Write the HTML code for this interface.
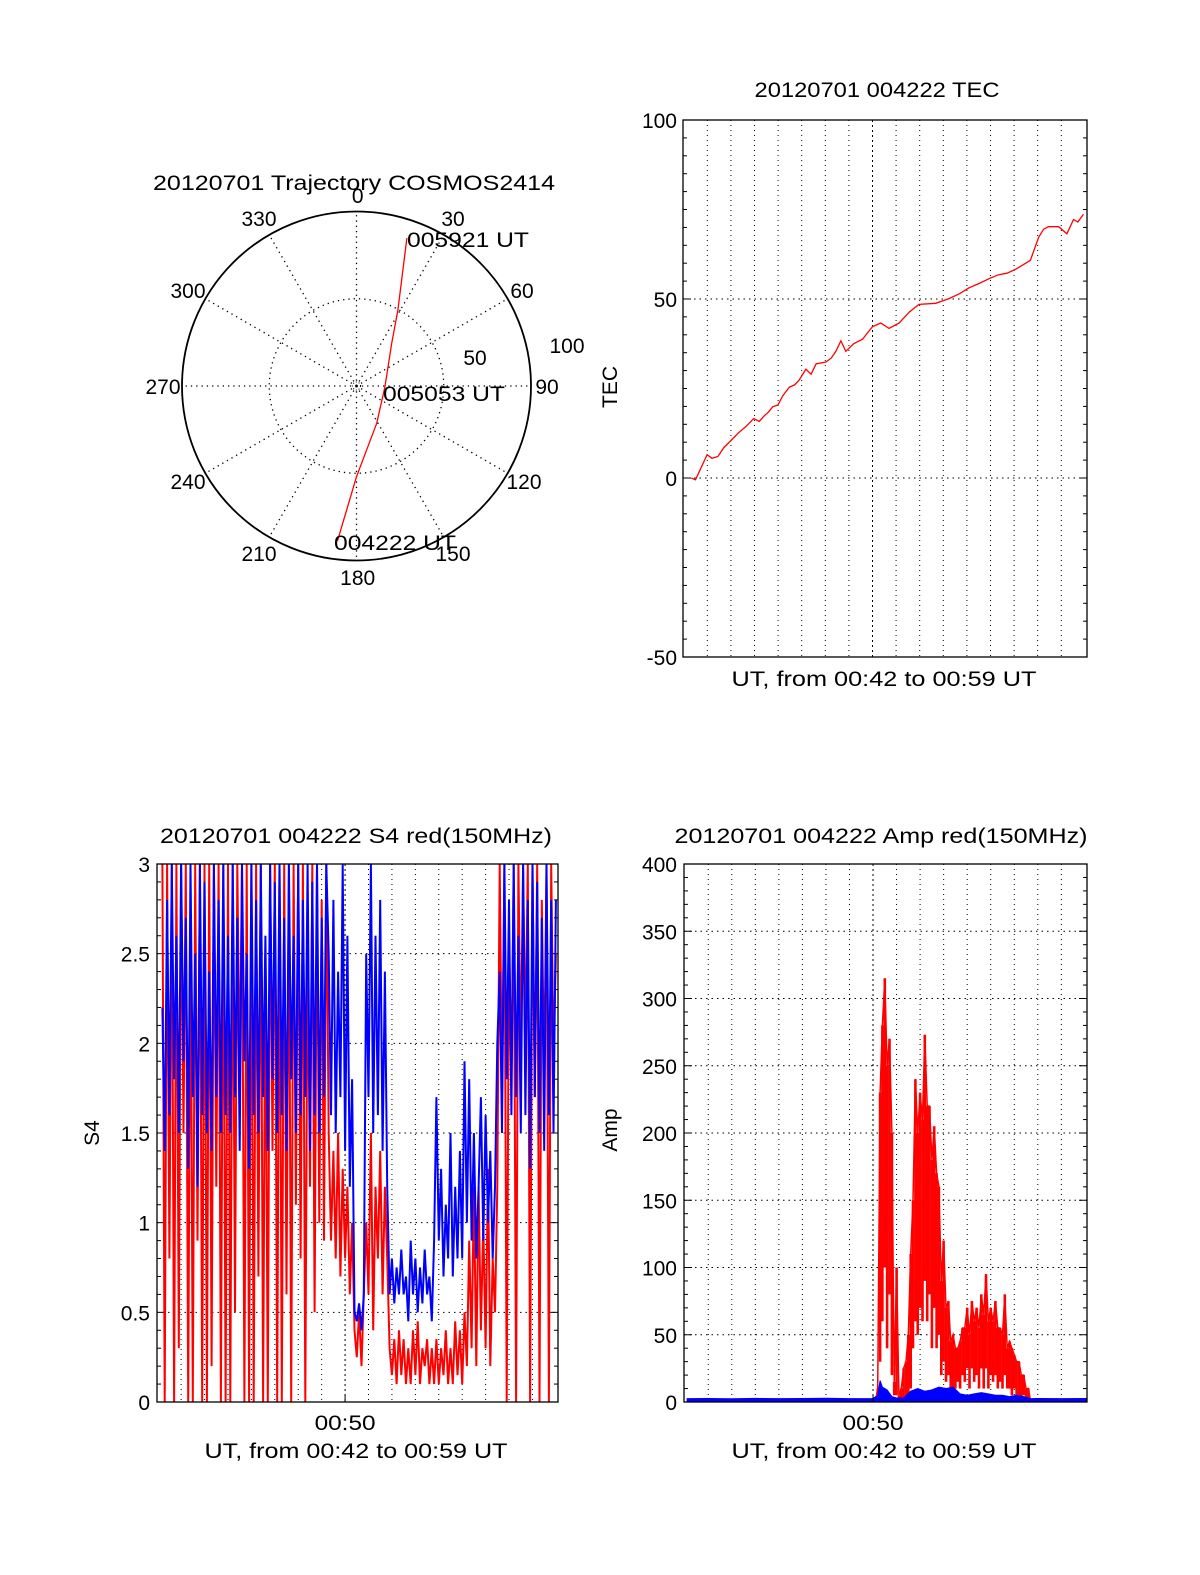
<!DOCTYPE html>
<html><head><meta charset="utf-8"><title>COSMOS2414 20120701</title>
<style>
html,body{margin:0;padding:0;background:#fff;}
svg{display:block;font-family:"Liberation Sans",Arial,sans-serif;}
text{fill:#000;}
</style></head>
<body>
<svg id="fig" width="1200" height="1575" viewBox="0 0 1200 1575" xmlns="http://www.w3.org/2000/svg">
<rect width="1200" height="1575" fill="#fff"/>
<g id="polar"></g>
<g id="tec"></g>
<g id="s4"></g>
<g id="amp"></g>
</svg>
<script>
// ---------- DATA ----------
const trajAz = [187, 180, 151.6, 92, 39.5, 28.6, 18.8];
const trajR  = [89.6, 52, 24.3, 16.3, 31.7, 49.6, 89.6];
const polarAngleLabels = ["0","30","60","90","120","150","180","210","240","270","300","330"];

const tecTimes = [42.32,42.5,42.99,43.2,43.45,43.7,44.01,44.3,44.64,44.97,45.2,45.42,45.6,45.77,45.99,46.2,46.48,46.7,46.9,47.18,47.4,47.61,48.03,48.25,48.45,48.66,48.87,49.2,49.58,50.0,50.35,50.7,51.13,51.55,51.97,52.68,53.24,53.7,54.08,54.5,54.99,55.35,55.7,56.06,56.4,56.69,57.04,57.25,57.46,57.89,58.24,58.52,58.7,58.94];
const tecValues = [0,-0.5,6.5,5.5,6,8.5,10.5,12.5,14.4,16.6,15.8,17.4,18.5,19.9,20.4,23,25.4,26,27.4,30.4,29,31.9,32.4,33.5,35.4,38.3,35.4,37.5,38.8,42.3,43.3,41.8,43.3,46.3,48.5,48.8,50.1,51.5,53.1,54.3,55.8,56.8,57.2,58.3,59.6,60.8,67.2,69.5,70.2,70.2,68.2,72.2,71.5,73.7];
const tecTicks = [100, 50, 0, -50];

// S4: uniform 0.1-minute samples starting at 00:42:12
const s4Start = 42.2, s4Step = 0.1;
const s4Red = [3,0,3,0.8,3,0,3,0.3,3,1.5, 3,0,2.8,0,3,0.9,3,0,3,0, 3,0.2,3,1.2,3,0,3,0,3,0, 3,0.5,3,1.8,3,0,3,0,3,0, 3,0.7,3,0,2.5,0,3,1.4,3,0, 3,0,3,0.6,3,0,3,1.1,3,
 0.8,3,0,2.6,1.2,3,0.5,3,1.0,2.8,0.9,3,
 1.5,0.9,1.4,0.8,1.5,0.7,1.3,0.8,1.2,0.6,1.0,
 0.4,0.25,0.5,0.2,0.6,
 1.0,0.6,1.5,0.4,1.2,0.8,1.4,0.6,1.2,0.8,
 0.3,0.15,0.35,0.1,0.4,0.15,0.35,0.1,0.3,0.1,0.4,0.15,0.45,0.1,0.3,0.2,0.35,0.1,0.3,0.1,
 0.35,0.1,0.3,0.15,0.4,0.1,0.3,0.1,0.45,0.15,0.4,0.1,
 0.5,0.2,0.9,0.3,1.2,0.2,1.2,0.4,1.0,0.3,1.3,0.2,0.8,0.5,1.2,
 3,1.7,3,0,2.6,1.8,3,0,3,1.9,3,2.0,3,0,3,1.7,3,0,2.8,1.8,3,0,3,1.9,2.5];
const s4Blue = [2.2,1.4,2.8,1.6,3,1.8,2.6,1.5,3,1.9, 2.7,1.3,3,1.7,2.5,1.2,3,1.6,2.9,1.5, 2.4,1.4,3,1.7,2.8,1.5,3,1.6,2.6,1.5, 3,1.7,2.7,1.4,3,1.9,2.5,1.3,3,1.6, 2.8,1.5,3,1.7,2.6,1.4,3,1.8,2.9,1.5, 3,1.6,2.7,1.4,3,1.8,2.6,1.5,3,
 1.6,2.8,1.7,3,1.4,2.9,1.6,3,1.5,2.7,1.7,3,
 2.5,1.6,2.8,1.5,2.4,1.7,3,1.4,2.6,1.2,1.8,
 0.5,0.45,0.55,0.4,0.6,
 2.5,1.7,3,1.5,2.6,1.6,2.8,1.4,2.4,1.2,
 0.6,0.8,0.55,0.75,0.6,0.85,0.6,0.7,0.45,0.9,0.6,0.8,0.5,0.75,0.55,0.85,0.6,0.7,0.45,0.9,
 1.7,0.9,1.3,0.7,1.1,0.8,1.5,0.7,1.2,0.8,1.4,0.8,
 1.9,1.0,1.8,0.9,1.5,0.8,1.2,1.7,0.9,1.6,1.0,1.4,0.8,1.2,2.0,
 2.4,1.5,3,1.8,2.8,1.6,3,1.7,2.6,1.5,3,1.6,2.8,1.3,3,1.7,2.9,1.5,2.7,1.4,3,1.6,2.8,1.5,2.8];
const s4Ticks = ["0","0.5","1","1.5","2","2.5","3"];

const ampRedTimes = [50.1,50.2,50.3,50.4,50.5,50.6,50.7,50.8,50.9,51.0,51.1,51.2,51.3,51.4,51.5,51.6,51.7,51.8,51.9,52.0,52.1,52.2,52.3,52.4,52.5,52.6,52.7,52.8,52.9,53.0,53.1,53.2,53.3,53.4,53.5,53.6,53.7,53.8,53.9,54.0,54.1,54.2,54.3,54.4,54.5,54.6,54.7,54.8,54.9,55.0,55.1,55.2,55.3,55.4,55.5,55.6,55.7,55.8,55.9,56.0,56.1,56.2,56.3,56.4,56.5,56.6,56.7];
const ampRed = [0,10,230,280,315,250,270,200,15,100,5,10,25,30,50,110,150,240,200,230,210,273,220,220,180,205,170,160,90,120,70,75,45,50,40,40,45,55,55,70,50,75,60,70,55,80,65,95,60,70,60,75,55,55,50,80,40,45,40,35,30,30,20,20,10,10,0];
const ampRedLow = [0,0,30,60,100,40,80,20,5,5,0,2,3,2,5,10,40,60,50,70,60,90,60,80,40,70,40,50,20,30,15,20,10,10,10,15,10,20,15,25,10,25,15,20,10,25,10,25,10,20,15,20,10,15,10,20,10,10,5,10,5,5,3,5,2,2,0];
const ampBlueTimes = [42.1,43,44,45,46,47,48,49,50.0,50.2,50.3,50.4,50.6,50.8,51.0,51.3,51.6,51.9,52.2,52.5,52.8,53.1,53.4,53.7,54.0,54.3,54.6,54.9,55.2,55.5,55.8,56.1,56.4,56.6,56.7,57,58,59.1];
const ampBlue = [2.5,2.6,2.4,2.7,2.5,2.6,2.8,2.5,2.6,5,16,11,9,4,3,3,8,10,8,9,11,10,11,6,5,6,7,6,5,5,4,5,4,3,2.5,2.6,2.5,2.6];
const ampTicks = [0,50,100,150,200,250,300,350,400];

// ---------- HELPERS ----------
const NS = "http://www.w3.org/2000/svg";
function mk(parent, tag, attrs, txt){
  const e = document.createElementNS(NS, tag);
  for (const k in attrs) e.setAttribute(k, attrs[k]);
  if (txt !== undefined) e.textContent = txt;
  parent.appendChild(e);
  return e;
}
const T0 = 41.97, T1 = 59.09;
function xScale(L, R){ return m => L + (m - T0) / (T1 - T0) * (R - L); }
function yScale(T, B, lo, hi){ return v => B - (v - lo) / (hi - lo) * (B - T); }

function frame(g, L, T, R, B, lo, hi, minorStep, majorStep, gridVals, name){
  const x = xScale(L, R);
  for (let m = 43; m <= 58; m++){
    const xx = x(m);
    const gl = mk(g, "line", {x1:xx, x2:xx, y1:T, y2:B, stroke:"#000", "stroke-width":1, "stroke-dasharray": m===50 ? "2,3" : "1,4"});
    
    
  }
  const y = yScale(T, B, lo, hi);
  gridVals.forEach(v => {
    const gl = mk(g, "line", {x1:L, x2:R, y1:y(v), y2:y(v), stroke:"#000", "stroke-width":1, "stroke-dasharray":"1.5,4"});
    
    
  });
  const n = Math.round((hi - lo) / minorStep);
  for (let i = 0; i <= n; i++){
    const v = lo + i * minorStep;
    const major = Math.abs((v - lo) / majorStep - Math.round((v - lo) / majorStep)) < 1e-6;
    const len = major ? 8 : 4;
    const yy = y(v);
    const t1 = mk(g, "line", {x1:L, x2:L+len, y1:yy, y2:yy, stroke:"#000", "stroke-width":1});
    
    
    const t2 = mk(g, "line", {x1:R-len, x2:R, y1:yy, y2:yy, stroke:"#000", "stroke-width":1});
    
    
  }
  return {x, y};
}
function border(g, L, T, R, B, name){
  const r = mk(g, "rect", {x:L, y:T, width:R-L, height:B-T, fill:"none", stroke:"#000", "stroke-width":1.3});
  
  
}
function txt(g, s, x, y, opts, name){
  const a = {x:x, y:y, "font-size":opts.size || 21, "text-anchor":opts.anchor || "middle"};
  if (opts.len){ a.textLength = opts.len; a.lengthAdjust = "spacingAndGlyphs"; }
  if (opts.rot) a.transform = `rotate(${opts.rot} ${x} ${y})`;
  const e = mk(g, "text", a, s);
  
  
  return e;
}
function clipRect(id, L, T, R, B){
  let defs = document.getElementById("defs");
  if (!defs){ defs = mk(document.getElementById("fig"), "defs", {id:"defs"}); }
  const cp = mk(defs, "clipPath", {id:id});
  mk(cp, "rect", {x:L, y:T, width:R-L, height:B-T});
}

// ---------- POLAR ----------
(function(){
  const g = document.getElementById("polar");
  const cx = 356.5, cy = 386, R = 174.5;
  const pr = r => r / 100 * R;
  txt(g, "20120701 Trajectory COSMOS2414", 354, 190, {len:402}, "polar-title");
  for (let a = 0; a < 360; a += 30){
    const rad = a * Math.PI / 180;
    const s = mk(g, "line", {x1:cx, y1:cy, x2:cx + R*Math.sin(rad), y2:cy - R*Math.cos(rad), stroke:"#000", "stroke-width":1.3, "stroke-dasharray":"1.3,4"});
    
    
  }
  const ic = mk(g, "circle", {cx:cx, cy:cy, r:pr(50), fill:"none", stroke:"#000", "stroke-width":1.3, "stroke-dasharray":"1.3,4"});
  
  
  const cc = mk(g, "circle", {cx:cx, cy:cy, r:4, fill:"none", stroke:"#000", "stroke-width":1, "stroke-dasharray":"1,2"});
  
  
  const oc = mk(g, "circle", {cx:cx, cy:cy, r:R, fill:"none", stroke:"#000", "stroke-width":1.8});
  
  
  const labelPos = [[357.7,203],[453,226],[522,298],[547,394],[524,489],[453,561],[357.7,585],[259,561],[188,489],[163,394],[188,298],[259,226]];
  polarAngleLabels.forEach((s, i) => txt(g, s, labelPos[i][0], labelPos[i][1], {}, "azimuth-label-" + s));
  txt(g, "50", 475, 365, {}, "radius-label-50");
  txt(g, "100", 567, 353, {}, "radius-label-100");
  const pts = trajAz.map((a, i) => {
    const rad = a * Math.PI / 180;
    return (cx + pr(trajR[i]) * Math.sin(rad)).toFixed(1) + "," + (cy - pr(trajR[i]) * Math.cos(rad)).toFixed(1);
  }).join(" ");
  const pl = mk(g, "polyline", {points:pts, fill:"none", stroke:"#f00", "stroke-width":1.3});
  
  
  txt(g, "005921 UT", 407, 247, {anchor:"start", len:122}, "end-time-label");
  txt(g, "005053 UT", 383, 401, {anchor:"start", len:122}, "mid-time-label");
  txt(g, "004222 UT", 334, 550, {anchor:"start", len:122}, "start-time-label");
})();

// ---------- TEC ----------
(function(){
  const g = document.getElementById("tec");
  const L = 683, T = 120, R = 1087, B = 657;
  txt(g, "20120701 004222 TEC", 877, 97, {len:245}, "tec-title");
  const s = frame(g, L, T, R, B, -50, 100, 5, 50, [50, 0], "tec");
  clipRect("cTec", L, T, R, B);
  const pts = tecTimes.map((m, i) => s.x(m).toFixed(1) + "," + s.y(tecValues[i]).toFixed(1)).join(" ");
  const pl = mk(g, "polyline", {points:pts, fill:"none", stroke:"#f00", "stroke-width":1.3, "clip-path":"url(#cTec)"});
  
  
  border(g, L, T, R, B, "tec");
  tecTicks.forEach(v => txt(g, String(v), 677, s.y(v) + 8, {anchor:"end"}, "tec-ytick-label"));
  txt(g, "TEC", 617, 387, {rot:-90}, "tec-y-axis-title");
  txt(g, "UT, from 00:42 to 00:59 UT", 884, 686, {len:305}, "tec-x-axis-title");
})();

// ---------- S4 ----------
(function(){
  const g = document.getElementById("s4");
  const L = 157, T = 864, R = 558, B = 1402;
  txt(g, "20120701 004222 S4 red(150MHz)", 356, 843, {len:392}, "s4-title");
  const s = frame(g, L, T, R, B, 0, 3, 0.1, 0.5, [0.5, 1, 1.5, 2, 2.5], "s4");
  clipRect("cS4", L, T, R, B);
  const tm = i => s4Start + i * s4Step;
  const red = s4Red.map((v, i) => s.x(tm(i)).toFixed(1) + "," + s.y(v).toFixed(1)).join(" ");
  const rl = mk(g, "polyline", {points:red, fill:"none", stroke:"#f00", "stroke-width":2, "clip-path":"url(#cS4)"});
  
  
  const blue = s4Blue.map((v, i) => s.x(tm(i)).toFixed(1) + "," + s.y(v).toFixed(1)).join(" ");
  const bl = mk(g, "polyline", {points:blue, fill:"none", stroke:"#00f", "stroke-width":2, "clip-path":"url(#cS4)"});
  
  
  border(g, L, T, R, B, "s4");
  mk(g, "line", {x1:s.x(50), x2:s.x(50), y1:B, y2:B-8, stroke:"#000"});
  s4Ticks.forEach(v => txt(g, v, 150, s.y(parseFloat(v)) + 8, {anchor:"end"}, "s4-ytick-label"));
  txt(g, "00:50", s.x(50), 1430, {len:61}, "s4-xtick-label");
  txt(g, "S4", 99, 1133, {rot:-90}, "s4-y-axis-title");
  txt(g, "UT, from 00:42 to 00:59 UT", 356, 1458, {len:303}, "s4-x-axis-title");
})();

// ---------- AMP ----------
(function(){
  const g = document.getElementById("amp");
  const L = 684, T = 864, R = 1087, B = 1402;
  txt(g, "20120701 004222 Amp red(150MHz)", 881, 843, {len:413}, "amp-title");
  const s = frame(g, L, T, R, B, 0, 400, 10, 50, [50,100,150,200,250,300,350], "amp");
  clipRect("cAmp", L, T, R, B);
  ampRedTimes.forEach((m, i) => {
    const b = mk(g, "rect", {x:(s.x(m) - 1.3).toFixed(1), y:s.y(ampRed[i]).toFixed(1), width:2.6, height:Math.max(0, s.y(ampRedLow[i]) - s.y(ampRed[i])).toFixed(1), fill:"#f00", "clip-path":"url(#cAmp)"});
    
    
  });
  const red = ampRedTimes.map((m, i) => s.x(m).toFixed(1) + "," + s.y(ampRed[i]).toFixed(1)).join(" ");
  const rl = mk(g, "polyline", {points:red, fill:"none", stroke:"#f00", "stroke-width":1.5, "clip-path":"url(#cAmp)"});
  
  
  const bpts = [s.x(ampBlueTimes[0]).toFixed(1) + "," + B]
    .concat(ampBlueTimes.map((m, i) => s.x(m).toFixed(1) + "," + s.y(ampBlue[i]).toFixed(1)))
    .concat([s.x(ampBlueTimes[ampBlueTimes.length-1]).toFixed(1) + "," + B]).join(" ");
  const bl = mk(g, "polygon", {points:bpts, fill:"#00f", stroke:"#00f", "stroke-width":1, "clip-path":"url(#cAmp)"});
  
  
  border(g, L, T, R, B, "amp");
  mk(g, "line", {x1:s.x(50), x2:s.x(50), y1:B, y2:B-8, stroke:"#000"});
  ampTicks.forEach(v => txt(g, String(v), 677, s.y(v) + 8, {anchor:"end"}, "amp-ytick-label"));
  txt(g, "00:50", s.x(50), 1430, {len:61}, "amp-xtick-label");
  txt(g, "Amp", 617, 1130, {rot:-90}, "amp-y-axis-title");
  txt(g, "UT, from 00:42 to 00:59 UT", 884, 1458, {len:305}, "amp-x-axis-title");
})();
</script>
</body></html>
